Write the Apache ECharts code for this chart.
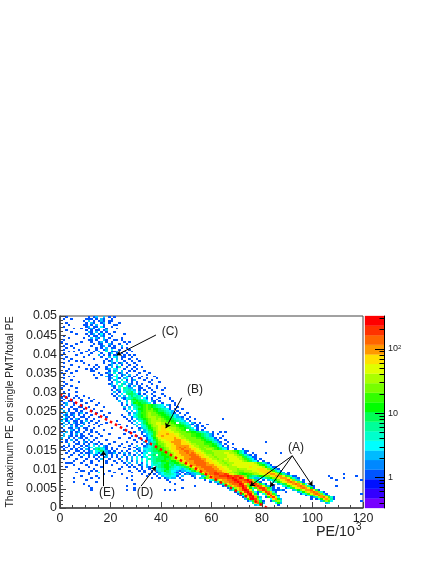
<!DOCTYPE html>
<html><head><meta charset="utf-8">
<style>html,body{margin:0;padding:0;background:#fff}#c{width:436px;height:564px}</style>
<script src="https://cdn.jsdelivr.net/npm/echarts@6/dist/echarts.min.js"></script>
</head><body><div id="c"></div>
<script>
// Colour palette of the z scale, lowest band first
const paletteColors=['#7700ff','#3300ff','#0011ff','#0055ff','#0088ff','#00bbff','#00ffff','#00ffcc','#00ff99','#00ff55','#00ff00','#33ff00','#77ff00','#aaff00','#e0ff00','#ffe000','#ff9900','#ff6600','#ff3300','#ff0000'];
const logZMin=-0.475, logZMax=2.51;
const binWidth=1, binHeight=0.0005, yTop=0.05;
// Counts: one character per bin
const countByCode={1:1,2:2,3:3,4:4,5:6,6:8,7:11,8:16,9:22,a:30,b:43,c:60,d:85,e:120,f:170,g:240};
// One string per row of bins, top row first: "firstColumn:codes ..."
const binRows=[
"2:1 11:1 13:12 17:2 19:1 21:1",
"1:1 4:1 10:111 14:1 16:21 20:1",
"9:1 11:2 13:1 15:121 19:11",
"2:1 10:1 12:21 16:12 19:1 23:1",
"3:1 9:11 12:1 14:2 17:1 21:11",
"1:1 10:12 13:11 16:31 20:1",
"5:1 8:1 11:121 15:2 18:1 22:1",
"2:1 10:1 12:1 14:11 17:12",
"4:1 11:21 14:2 16:1 18:1 21:1",
"6:1 10:1 12:12 15:131 19:1 25:1",
"1:1 11:1 13:11 16:21 20:1",
"3:1 9:1 12:2 14:21 17:2 19:1 24:1",
"1:1 11:11 14:1 17:21 21:11 24:1",
"0:1 8:1 12:1 15:12 18:1 20:1 25:1 27:1",
"2:1 6:1 13:1 15:11 19:21 23:1 26:1",
"1:1 4:1 12:1 16:12 19:1 21:1 24:2",
"2:1 5:1 14:1 16:1 18:2 20:11 24:1 26:1",
"1:1 7:1 11:1 14:1 17:12 20:3 23:1 27:1",
"3:1 5:1 10:1 13:1 15:2 18:4 20:11 22:2 25:1 28:1",
"1:1 8:1 12:1 16:1 19:13 22:1 24:1 26:1",
"0:1 6:1 11:1 15:2 17:1 19:1 21:12 25:1 27:1 29:1",
"2:1 9:1 16:1 19:2 21:32 24:11 28:1",
"1:1 4:1 13:1 18:1 20:1 22:2 24:1 27:1 30:1",
"3:1 6:1 8:1 17:1 19:12 22:3 25:1 28:1 31:1",
"1:1 9:1 17:1 20:21 23:12 26:1 29:1",
"4:1 11:1 14:1 19:12 22:3 24:1 27:1 30:1",
"1:1 7:1 13:1 15:1 18:1 20:2 22:14 26:1 29:1 32:1",
"3:1 10:1 12:1 14:1 18:12 21:32 25:1 28:1 30:1",
"2:1 6:1 12:11 19:1 21:23 24:2 27:1 29:1 33:1",
"0:1 4:1 15:1 18:12 21:4 23:12 26:1 31:1 35:1",
"1:1 13:1 16:1 19:11 22:3 24:12 27:2 30:1 34:1",
"3:1 5:1 18:21 21:34 24:1 26:21 29:1 32:1 37:1",
"1:1 14:1 19:12 22:31 25:23 28:1 31:1 34:1 38:1",
"4:1 19:1 21:23 24:4 26:1 28:12 33:1 36:1",
"1:1 7:1 20:1 22:42 25:32 28:1 30:1 35:1 39:1",
"2:1 19:12 22:3 24:52 27:21 30:1 32:1 36:1",
"1:1 4:1 20:21 23:44 26:31 29:2 31:1 34:1 38:1",
"0:1 6:1 21:1 23:3 25:542 28:2 31:11 35:1 38:1 41:1",
"3:1 20:1 22:12 25:445 28:32 31:1 33:1 36:1 40:1",
"1:1 6:1 21:2 23:1 25:3556 29:3 31:2 34:1 37:1",
"3:1 20:1 22:1 24:3 26:5665 30:31 33:1 36:1 40:1",
"1:1 3:1 6:1 9:1 21:1 23:2 25:2 27:4645 31:42 34:2 37:1 41:1",
"0:1 2:1 5:1 7:1 11:1 22:1 24:21 26:34 28:5654 33:31 36:1 39:1 43:1",
"1:1 4:1 8:1 13:1 22:1 25:13 27:5676 31:543 34:2 36:1 38:1 43:1",
"0:1 3:11 8:1 12:1 23:2 26:2 28:56766 33:53 36:21 39:1 44:1",
"1:12 5:1 10:1 15:1 24:1 26:3 28:47876 33:65 35:3 37:1 40:1 45:1",
"0:1 2:2 5:1 8:1 14:1 24:1 26:1 28:24 30:677 33:8987 37:65 39:43 42:21 45:1",
"1:1 4:1 7:11 11:1 17:1 25:2 27:2 29:4 30:567898 36:7 37:65 39:43 41:2 43:1 46:1",
"0:2 3:1 5:11 9:1 13:1 25:1 27:3 29:35 31:778989 37:776 40:54 42:31 45:1 48:1",
"1:2 3:1 6:1 8:1 12:1 16:1 26:2 28:2 30:36 32:789998 38:766 41:543 44:2 46:1",
"0:1 2:2 4:11 7:12 10:1 14:1 19:1 27:1 29:24 31:6 32:889a99 38:87 40:76 42:54 44:21 47:1 50:1",
"1:21 4:12 7:1 9:1 12:1 17:1 24:1 27:2 29:3 30:56 32:789a99 38:987 41:765 44:43 46:2 49:1",
"0:1 2:21 5:1 8:11 11:1 15:1 18:1 25:1 28:13 30:4 31:67 33:89aaa9 39:987 42:765 45:32 47:21 51:1",
"1:31 4:1 6:21 10:1 13:1 26:1 28:1 30:2 31:56 33:789aa9 39:a987 43:765 46:43 48:2 50:1 53:1 64:1",
"0:2 2:13 5:11 8:1 10:2 12:1 15:1 22:1 27:1 29:2 31:34 33:689aaa 39:a998 43:876 46:54 48:32 51:1",
"1:2 3:1 5:21 8:12 11:1 14:1 18:1 28:1 30:3 32:46 34:79aab 39:baa9 43:987 47:65 49:43 52:21 55:1",
"0:1 2:2 4:1 6:11 9:1 13:1 16:1 23:1 29:2 31:23 33:5 34:789ab 39:baa99 44:987 47:76 49:53 51:21 54:1 58:1",
"1:2 4:2 6:1 8:2 11:1 15:1 26:1 30:2 32:34 34:6 35:79aabc 41:baa9 45:987 48:76 50:54 53:21 56:1",
"0:1 3:11 6:21 9:11 13:1 20:1 28:1 31:12 33:4 34:57 36:89abc 41:cbaa 45:a98 48:87 50:65 52:3 54:1 57:1",
"1:1 4:21 7:1 10:1 12:1 17:1 25:1 31:2 33:2 34:46 36:79abc 41:cbba 45:a99 48:87 51:65 53:31 56:1",
"0:1 2:2 4:1 6:12 9:1 12:1 14:1 27:1 29:1 32:12 34:35 36:68 38:ac 40:cccb 44:baa9 48:9988 52:7765 56:432 60:1 63:1 65:1",
"1:2 4:1 6:2 8:1 11:1 15:1 19:1 25:1 32:1 34:24 36:58 38:ac 40:ccd 43:ccb 46:ba9 49:9998 53:877 56:654 59:21 62:1",
"1:2 3:21 6:1 8:11 12:1 16:1 28:1 30:1 33:12 35:36 37:8b 39:cdc 42:ccc 45:cb 47:aa99 51:9887 55:765 58:42 60:1 64:1",
"0:2 3:1 5:1 7:21 10:1 14:1 23:1 27:1 31:1 34:13 36:47 38:9b 40:ccc 43:ccd 46:cba 49:a999 53:9887 57:654 60:31 63:1",
"2:1 4:2 6:1 9:1 11:2 13:1 18:1 29:1 32:1 34:12 36:36 38:8a 40:bbc 43:ccdd 47:dcb 50:a99 53:9998 57:765 60:42 62:1 65:1",
"0:1 2:1 5:1 7:1 9:21 12:1 15:1 21:1 26:1 30:1 33:2 35:24 37:58 39:9a 41:bbc 43:cdd 46:ddcc 50:ba9 53:9999 57:877 60:54 62:21 66:1 81:1",
"3:2 6:11 9:1 11:1 13:21 16:1 19:1 24:1 28:1 32:1 34:12 36:36 38:79 40:9ab 43:bcd 46:ddcc 50:cba 53:a999 57:8887 61:64 63:2 65:1 68:1",
"1:1 3:1 5:1 8:1 10:12 13:3 15:2 17:21 23:1 27:1 30:2 33:12 35:3 36:46 38:78 40:9ab 43:bcc 46:dddd 50:dcb 53:aa99 57:9987 61:75 63:31 66:1",
"0:1 2:1 5:1 7:1 9:2 11:13 14:44 16:3 17:21 20:1 25:1 29:1 31:2 33:2 34:23 36:56 38:78 40:89a 43:bcc 46:dede 50:dcb 53:ba9 56:9a99 60:987 63:53 65:21 68:1",
"1:1 4:1 6:1 8:1 10:21 13:2 14:56 16:4 17:31 20:1 22:1 27:1 30:12 33:3 34:34 36:56 38:78 40:89a 43:bcc 46:dded 50:ddc 53:cb 55:a99a 59:a987 63:64 65:31 69:1 72:1",
"3:1 6:11 9:1 11:12 14:3 15:46 17:42 19:1 21:1 24:1 26:1 29:2 31:1 33:23 35:4 36:56 38:67 40:88 42:9ab 44:bcc 47:dde 50:edd 53:cb 55:ba9 58:99a 61:aaa 64:aaa 67:a98 70:75 72:31 74:1",
"2:1 5:1 8:1 10:11 12:2 14:31 16:3 18:21 20:12 23:1 25:2 27:1 30:2 32:13 34:4 36:45 38:56 40:78 42:89 44:abc 47:ddd 50:ede 53:dc 55:cb 57:a99 60:9aa 63:aab 66:baa 69:97 71:53 73:1 76:1 81:1 87:1",
"4:1 7:1 9:2 11:1 13:21 16:1 18:2 20:1 22:1 25:1 27:2 29:1 31:2 33:3 35:45 37:6 39:67 41:78 43:9a 45:bc 47:cdd 50:dee 53:ed 55:cc 57:ba 59:a9 61:aaa 64:aab 67:bba 70:98 72:64 74:21 77:1",
"3:1 8:1 11:1 13:1 15:1 17:12 20:1 22:1 24:2 26:1 28:2 30:3 32:13 34:4 36:45 38:56 40:67 42:78 44:9a 46:bc 48:cdd 51:dee 54:ed 56:cb 58:ba 60:a9 62:aaa 65:abb 68:bba 71:a8 73:64 75:31 77:1",
"1:1 6:1 10:1 14:1 16:2 19:1 23:1 26:1 28:2 30:3 32:4 34:35 36:4 37:56 39:66 41:76 43:89 45:ab 47:bc 49:dde 52:eee 55:ed 57:dc 59:ba 61:a9 63:aab 66:abb 69:bb 71:a9 73:86 75:53 77:1 79:1",
"5:1 9:1 12:1 15:1 18:1 21:1 24:1 26:2 28:1 30:2 32:3 34:4 36:45 38:6 39:67 41:78 43:67 45:79 47:bc 49:cd 51:dde 54:eee 57:dc 59:cb 61:ba 63:a9 65:aab 68:bbb 71:ba 73:98 75:64 77:31 80:1",
"2:11 4:1 8:1 12:1 18:1 22:1 25:1 27:2 30:2 32:1 34:3 36:35 38:54 40:66 42:76 44:67 46:79 48:ab 50:cd 52:dee 55:eee 58:dc 60:cb 62:ba 64:a9 66:aa 68:ab 70:bb 72:bb 74:bb 76:ba 78:86 80:42 82:1",
"5:1 10:1 14:1 20:1 26:1 28:1 31:12 34:2 36:3 37:44 39:56 41:77 43:56 45:46 47:68 49:9b 51:cd 53:dee 56:eed 59:dd 61:cb 63:ba 65:a9 67:ab 69:bb 71:bb 73:bb 75:bb 77:ba 79:87 81:53 83:1",
"2:1 11:1 16:1 24:1 27:1 29:1 32:1 34:21 36:3 38:45 40:67 42:76 44:5 45:43 47:45 49:68 51:ab 53:cd 55:dee 58:eed 61:dc 63:cb 65:ba 67:aa 69:ab 71:bb 73:bb 75:cb 77:bb 79:ba 81:75 83:31 85:1",
"7:1 13:1 23:1 30:1 32:1 35:1 37:2 38:34 40:56 42:75 44:43 46:34 48:24 50:57 52:9c 54:cd 56:dee 59:eed 62:dc 64:cb 66:ba 68:aa 70:9a 72:aa 74:bb 76:bb 78:cc 80:cb 82:96 84:42 86:1",
"8:1 9:1 12:1 14:1 19:1 27:1 31:1 33:1 36:1 38:2 39:45 41:76 43:53 45:32 47:12 49:23 51:46 53:7a 55:cd 57:dee 60:eed 63:dc 65:cb 67:ba 69:a9 71:99 73:aa 75:ab 77:bb 79:cc 81:cc 83:a8 85:53 87:1",
"6:1 11:1 15:3 21:1 28:1 33:1 36:1 38:12 40:34 42:65 44:32 46:1 48:1 50:12 52:24 54:58 56:cd 58:dee 61:fee 64:dc 66:ba 68:a9 70:98 72:89 74:9a 76:aa 78:bb 80:cc 82:dc 84:b9 86:64 88:2 90:1",
"11:1 17:1 24:1 32:1 35:1 37:1 39:23 41:55 43:54 45:32 47:1 49:12 51:12 53:24 55:58 57:bd 59:eef 62:fee 65:fe 67:cb 69:a9 71:87 73:78 75:89 77:aa 79:bb 81:cc 83:dd 85:ca 87:75 89:21 112:1",
"8:1 14:1 20:1 28:1 34:1 38:1 40:23 42:44 44:33 46:1 48:2 52:12 56:24 58:9c 60:de 62:eff 65:fg 67:fe 69:ff 71:ed 73:97 75:65 77:56 79:78 81:99 83:bc 85:dd 87:db 89:86 91:31 93:1 106:1 117:1",
"5:1 12:1 15:1 26:1 36:1 39:1 41:12 43:32 45:2 47:1 53:1 55:2 56:4 57:7 58:9c 60:de 62:ee 64:ee 66:ff 68:gf 70:eg 72:fc 74:85 76:42 78:23 80:35 82:67 84:9a 86:cd 88:dd 90:b8 92:42 94:1 107:1 112:1",
"10:1 28:1 42:1 48:1 57:1 59:3 60:58 62:ac 64:dd 66:ee 68:fg 70:fe 72:ef 74:ge 76:a6 78:2 80:1 82:23 84:57 86:9b 88:cd 90:ec 92:95 94:2 96:1 109:1 119:1",
"5:1 14:1 43:1 59:1 61:24 63:7a 65:dd 67:ee 69:fg 71:fd 73:ef 75:gd 77:95 79:1 84:35 86:79 88:bc 90:de 92:dc 94:95 96:1",
"9:1 29:1 45:1 62:1 63:25 65:9c 67:de 69:ee 71:gf 73:c9 75:ef 77:fd 79:84 81:1 86:2 87:46 89:8b 91:cd 93:ed 95:c8 97:3",
"11:1 26:1 53:1 64:1 65:26 67:9c 69:de 71:fg 73:e9 75:7c 77:ef 79:eb 81:62 84:1 88:35 90:79 92:bc 94:de 96:da 98:52 100:1 109:1",
"12:1 29:1 48:1 66:13 68:6a 70:cd 72:gf 74:c7 76:48 78:df 80:fd 82:85 84:1 86:1 89:1 90:36 92:8b 94:cd 96:ed 98:b7 100:1",
"12:1 26:1 29:1 41:1 43:1 45:1 67:2 68:4 69:7b 71:df 73:gf 75:b5 78:9 79:df 81:e9 83:41 85:11 87:21 92:25 94:79 96:bd 98:de 100:b6 102:1",
"69:14 71:9c 73:fg 75:e9 77:31 79:6b 81:fe 83:a4 85:1 89:1 94:24 96:7a 98:cd 100:ed 102:94 104:1",
"70:1 71:3 72:7c 74:fg 76:c6 78:1 80:39 82:fd 84:85 95:1 96:35 98:8b 100:de 102:d9 104:41 119:1",
"71:13 73:8d 75:gf 77:a4 81:4 82:cf 84:c6 86:1 97:1 98:36 100:9c 102:ed 104:a6 106:2",
"72:1 73:5 74:bf 76:gd 78:72 81:1 82:7 83:df 85:b3 99:1 100:25 102:ad 104:ec 106:84 108:1",
"73:2 74:7 75:cg 77:f9 79:3 83:3 84:cd 86:72 99:1 101:1 102:37 104:cd 106:a5 108:1",
"74:1 75:38 77:ed 79:61 83:1 84:59 86:a4 103:2 104:6 105:a8 107:3 119:1",
"76:5b 78:e7 80:2 85:37 87:2 105:2 106:4",
"77:2 78:36 86:1"
];
// Z scale decades and the minor tick values of the colour bar
const zMajorTicks=[1,10,100];
const zMinorTicks=[0.4,0.5,0.6,0.7,0.8,0.9,2,3,4,5,6,7,8,9,20,30,40,50,60,70,80,90,200,300];
// Red dotted cut line
const cutLine=[[0,0.0297],[82,0]];
// Arrows [from, to] in axis values
const arrowsData=[
 [[38,0.04505],[22.4,0.0398]],
 [[48.2,0.0287],[41.9,0.0208]],
 [[32.1,0.0057],[38,0.0108]],
 [[17.2,0.0057],[17.2,0.0149]],
 [[92,0.0136],[75.2,0.0057]],
 [[92,0.0136],[83.2,0.0055]],
 [[92,0.0136],[100,0.0057]]
];
const arrowLabels=[['(C)',170,332],['(B)',195,390],['(D)',145,493],['(E)',107,493],['(A)',296,448]];

const FONT='"Liberation Sans",Arial,sans-serif';
const step=(logZMax-logZMin)/paletteColors.length;
function colorOf(count){
  const i=Math.floor((Math.log10(count)-logZMin)/step);
  return paletteColors[Math.max(0,Math.min(paletteColors.length-1,i))];
}
const bins=[];
binRows.forEach((row,r)=>{
  row.split(' ').forEach(seg=>{
    const [start,codes]=seg.split(':');
    [...codes].forEach((ch,k)=>{
      bins.push([+start+k, yTop-(r+1)*binHeight, countByCode[ch]]);
    });
  });
});
const bandData=paletteColors.map((c,i)=>[i]);

const chart=echarts.init(document.getElementById('c'),null,{renderer:'canvas'});
chart.setOption({
  animation:false,
  backgroundColor:'#fff',
  grid:[
    {left:60,top:316,width:303,height:192,show:true,borderColor:'#444',borderWidth:1,backgroundColor:'transparent',outerBoundsMode:'none'},
    {left:365,top:316,width:19,height:192,outerBoundsMode:'none'}
  ],
  xAxis:[
    {gridIndex:0,type:'value',min:0,max:120,interval:20,z:5,
     axisLine:{show:true,lineStyle:{color:'#444',width:1.5}},
     axisTick:{show:true,inside:true,length:6,lineStyle:{color:'#444',width:1}},
     minorTick:{show:true,splitNumber:4,length:3,lineStyle:{color:'#444',width:1}},
     splitLine:{show:false},
     axisLabel:{color:'#222',fontFamily:FONT,fontSize:12.4,margin:5,showMinLabel:true,showMaxLabel:true}},
    {gridIndex:1,type:'value',min:0,max:1,show:false}
  ],
  yAxis:[
    {gridIndex:0,type:'value',min:0,max:0.05,interval:0.005,z:5,
     axisLine:{show:true,lineStyle:{color:'#444',width:1.5}},
     axisTick:{show:true,inside:true,length:6,lineStyle:{color:'#444',width:1}},
     minorTick:{show:true,splitNumber:5,length:3,lineStyle:{color:'#444',width:1}},
     splitLine:{show:false},
     axisLabel:{color:'#222',fontFamily:FONT,fontSize:12.4,margin:3,showMinLabel:true,showMaxLabel:true,
       formatter:v=>String(+v.toFixed(3))},
     name:'The maximum PE on single PMT/total PE',nameLocation:'middle',nameGap:28,
     nameTextStyle:{color:'#222',fontFamily:FONT,fontSize:10.4}},
    {gridIndex:1,type:'value',position:'right',min:logZMin,max:logZMax,z:5,
     axisLine:{show:true,onZero:false,lineStyle:{color:'#000',width:1}},
     axisTick:{show:true,inside:true,length:9,customValues:zMajorTicks.map(Math.log10),lineStyle:{color:'#000'}},
     splitLine:{show:false},
     axisLabel:{show:true,margin:4,customValues:zMajorTicks.map(Math.log10),
       color:'#222',fontFamily:FONT,fontSize:9,
       formatter:v=>v>1.5?'{a|10}{b|2}':(v>0.5?'{a|10}':'{a|1}'),
       rich:{a:{fontFamily:FONT,fontSize:9,color:'#222'},b:{fontFamily:FONT,fontSize:6,color:'#222',verticalAlign:'top'}}}},
    {gridIndex:1,type:'value',position:'right',min:logZMin,max:logZMax,z:5,
     axisLine:{show:false,onZero:false},
     axisTick:{show:true,inside:true,length:4.5,customValues:zMinorTicks.map(Math.log10),lineStyle:{color:'#000'}},
     splitLine:{show:false},axisLabel:{show:false}}
  ],
  series:[
    {type:'custom',xAxisIndex:0,yAxisIndex:0,z:1,data:bins,encode:{x:0,y:1},clip:true,
     renderItem:(p,api)=>{
       const x=api.value(0),y=api.value(1);
       const a=api.coord([x,y+binHeight]),b=api.coord([x+binWidth,y]);
       const x0=Math.round(a[0]),y0=Math.round(a[1]),x1=Math.round(b[0]),y1=Math.round(b[1]);
       return {type:'rect',shape:{x:x0,y:y0,width:x1-x0,height:y1-y0},style:{fill:colorOf(api.value(2))}};
     }},
    {type:'line',xAxisIndex:0,yAxisIndex:0,z:2,data:cutLine,symbol:'none',
     lineStyle:{color:'#ff0000',width:2.5,type:[2.5,3.2]}},
    {type:'lines',coordinateSystem:'cartesian2d',xAxisIndex:0,yAxisIndex:0,z:3,
     data:arrowsData.map(a=>({coords:a})),
     symbol:['none','arrow'],symbolSize:5,
     lineStyle:{color:'#000',width:1,opacity:1,curveness:0}},
    {type:'custom',xAxisIndex:1,yAxisIndex:1,z:1,data:bandData,encode:{y:0},
     renderItem:(p,api)=>{
       const i=api.value(0);
       const a=api.coord([0,logZMin+(i+1)*step]),b=api.coord([1,logZMin+i*step]);
       return {type:'rect',shape:{x:a[0],y:a[1],width:b[0]-a[0],height:b[1]-a[1]},style:{fill:paletteColors[i],stroke:paletteColors[i],lineWidth:0.3}};
     }}
  ],
  graphic:arrowLabels.map(t=>({type:'text',x:t[1],y:t[2],z:10,
      style:{text:t[0],fontFamily:FONT,fontSize:12,fill:'#222',align:'center',verticalAlign:'middle'}}))
    .concat([
      {type:'text',x:316,y:532,z:10,style:{text:'PE/10',fontFamily:FONT,fontSize:14.3,fill:'#222',align:'left',verticalAlign:'middle'}},
      {type:'text',x:356,y:527,z:10,style:{text:'3',fontFamily:FONT,fontSize:10,fill:'#222',align:'left',verticalAlign:'middle'}}
    ])
});
</script></body></html>
